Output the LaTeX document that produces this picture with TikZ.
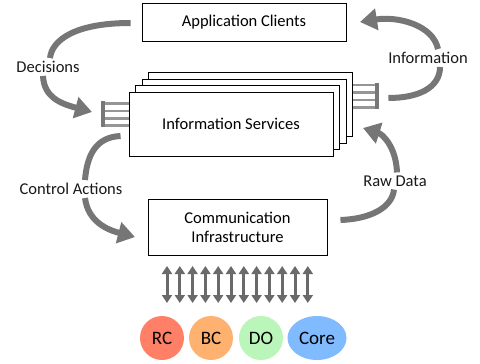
\documentclass[tikz,border=0pt]{standalone}
\usepackage{fontspec}
\setmainfont{Carlito}
\usetikzlibrary{arrows.meta,shapes.geometric}
\definecolor{arrgray}{RGB}{118,118,118}
\definecolor{combgray}{RGB}{120,120,120}
\definecolor{comblgray}{RGB}{150,150,150}
\definecolor{rccol}{RGB}{255,128,102}
\definecolor{bccol}{RGB}{255,178,112}
\definecolor{docol}{RGB}{186,245,186}
\definecolor{corecol}{RGB}{128,186,255}
\begin{document}
\begin{tikzpicture}[x=1pt,y=-1pt,
  box/.style={draw=black,line width=0.9pt,fill=white,inner sep=0pt,align=center,font=\fontsize{16.5}{19}\selectfont},
  lbl/.style={inner sep=1pt,font=\fontsize{16.5}{19}\selectfont,text=black!90},
  bigarrow/.style={draw=arrgray,line width=6pt,-{Triangle[length=17pt,width=21pt]}},
  bigline/.style={draw=arrgray,line width=6pt},
  dbl/.style={draw=arrgray!90!black,line width=3pt,{Triangle[length=8pt,width=10pt]}-{Triangle[length=8pt,width=10pt]}},
  circ/.style={circle,minimum size=44pt,inner sep=0pt,font=\fontsize{19}{22}\selectfont},
  combbar/.style={draw=combgray,line width=3.8pt},
  combline/.style={draw=comblgray,line width=2.2pt}
]
\path[use as bounding box] (0,0) rectangle (480,364);

% boxes
\node[box,minimum width=204pt,minimum height=38pt] (ac) at (244,22) {Application Clients};
\node[box,minimum width=204pt,minimum height=64pt] (is4) at (250.5,104.5) {};
\node[box,minimum width=204pt,minimum height=64pt] (is3) at (244.2,111) {};
\node[box,minimum width=204pt,minimum height=64pt] (is2) at (237.7,117.5) {};
\node[box,minimum width=204pt,minimum height=64pt] (is1) at (231,124) {Information Services};
\node[box,minimum width=179pt,minimum height=56pt] (ci) at (237.5,227) {Communication\\Infrastructure};

% combs
\coordinate (lc) at (103,101);
\draw[combline] (103,103.5) -- (is1.west |- 0,103.5);
\draw[combline] (103,111) -- (is1.west |- 0,111);
\draw[combline] (103,118.5) -- (is1.west |- 0,118.5);
\draw[combline] (103,125.5) -- (is1.west |- 0,125.5);
\draw[combbar] (lc) -- (103,127);
\coordinate (rcm) at (377,83);
\draw[combline] (is4.east |- 0,85) -- (377,85);
\draw[combline] (is4.east |- 0,92.5) -- (377,92.5);
\draw[combline] (is4.east |- 0,100) -- (377,100);
\draw[combline] (is4.east |- 0,107.5) -- (377,107.5);
\draw[combbar] (rcm) -- (377,109);

% labels
\node[lbl] (dec) at (48,67) {Decisions};
\node[lbl] (ctrl) at (71,189) {Control Actions};
\node[lbl] (info) at (428,58) {Information};
\node[lbl] (raw) at (395,181) {Raw Data};

% curved arrows (xshift/yshift are canvas shifts: positive yshift = up)
\draw[bigline] ([xshift=-11pt,yshift=-1pt]ac.west) .. controls (75,23) and (52,40) .. ([xshift=2pt,yshift=2pt]dec.north);
\draw[bigarrow] ([xshift=-5pt,yshift=-2pt]dec.south) .. controls (44,98) and (62,104) .. (92,112);

\draw[bigline] ([xshift=-8pt,yshift=-12pt]is1.west) .. controls (96,137) and (87,155) .. ([xshift=14pt,yshift=2pt]ctrl.north);
\draw[bigarrow] ([xshift=14pt,yshift=-2pt]ctrl.south) .. controls (88,222) and (108,230) .. (135,237);

\draw[bigline] ([xshift=35.5pt,yshift=6.5pt]is4.east) .. controls (418,98) and (440,88) .. ([xshift=12pt,yshift=-2pt]info.south);
\draw[bigarrow] ([xshift=10pt,yshift=2pt]info.north) .. controls (433,25) and (398,16) .. (360,22);

\draw[bigline] ([xshift=13pt,yshift=7pt]ci.east) .. controls (370,219) and (392,208) .. ([xshift=-1pt,yshift=-2pt]raw.south);
\draw[bigarrow] ([xshift=2pt,yshift=2pt]raw.north) .. controls (396,146) and (382,134) .. (363,128);

% double arrows
\foreach \i in {0,...,11}{
  \coordinate (da\i) at ({167+\i*12.8},266);
  \coordinate (db\i) at ({167+\i*12.8},303);
  \draw[dbl] (da\i) -- (db\i);
}

% circles
\node[circ,fill=rccol] (rc) at (162,338) {RC};
\node[circ,fill=bccol] (bc) at (211,338) {BC};
\node[circ,fill=docol] (do) at (261,338) {DO};
\node[ellipse,fill=corecol,minimum width=59pt,minimum height=44pt,inner sep=0pt,font=\fontsize{19}{22}\selectfont] (core) at (317,338) {Core};
\end{tikzpicture}
\end{document}
